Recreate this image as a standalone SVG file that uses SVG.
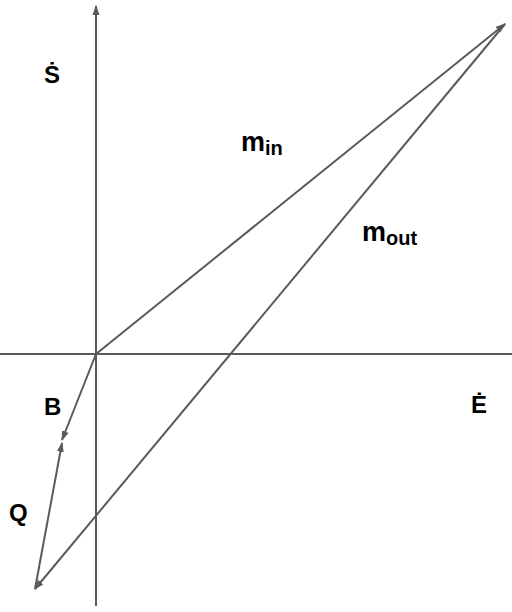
<svg xmlns="http://www.w3.org/2000/svg" width="512" height="612" viewBox="0 0 512 612">
<style>
.ln{stroke:#5a5a5a;stroke-width:2;fill:none}
.t{font-family:"Liberation Sans",Arial,sans-serif;font-weight:bold;fill:#000}
.big{font-size:24px}
.m{font-size:27px}
.sub{font-size:20px}
</style>
<defs>
<marker id="ah" markerWidth="10" markerHeight="8" refX="9" refY="4" orient="auto" markerUnits="userSpaceOnUse">
<path d="M0,0.5 L10,4 L0,7.5 Z" fill="#5a5a5a"/>
</marker>
</defs>
<rect width="512" height="612" fill="#fff"/>
<g id="connectors">
<line class="ln" x1="96" y1="606" x2="96" y2="6" marker-end="url(#ah)"/>
<line class="ln" x1="0" y1="354" x2="512" y2="354"/>
<line class="ln" x1="96" y1="354" x2="505" y2="24" marker-end="url(#ah)"/>
<line class="ln" x1="505" y1="24" x2="35" y2="589" marker-end="url(#ah)"/>
<line class="ln" x1="96" y1="354" x2="62" y2="440" marker-end="url(#ah)"/>
<line class="ln" x1="35" y1="589" x2="62" y2="443" marker-end="url(#ah)"/>
</g>
<g id="label-S"><text class="t big" x="44" y="83">Ṡ</text></g>
<g id="label-E"><text class="t big" x="471" y="413">Ė</text></g>
<g id="label-B"><text class="t big" x="44" y="415">B</text></g>
<g id="label-Q"><text class="t big" x="9" y="521">Q</text></g>
<g id="label-min"><text class="t m" x="241" y="151">m<tspan class="sub" dy="4">in</tspan></text></g>
<g id="label-mout"><text class="t m" x="362" y="241">m<tspan class="sub" dy="4">out</tspan></text></g>
</svg>
